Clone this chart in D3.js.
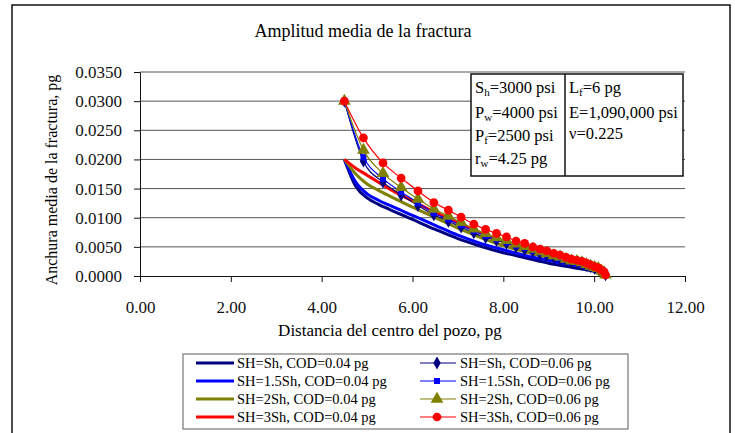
<!DOCTYPE html>
<html>
<head>
<meta charset="utf-8">
<script src="https://cdn.jsdelivr.net/npm/d3@7"></script>
<style>
  body { margin: 0; background: #fff; }
  svg { display: block; }
  svg text { font-family: "Liberation Serif", "Times New Roman", serif; }
</style>
</head>
<body>
<svg width="735" height="433"></svg>
<script>
const svg = d3.select("svg");

//====== Data ======

const xTicks = [0, 2, 4, 6, 8, 10, 12];
const yTicks = [0, 0.005, 0.010, 0.015, 0.020, 0.025, 0.030, 0.035];

// distance (pg) for the COD=0.04 curves
const distLine = [4.50, 4.75, 5.00, 5.25, 5.50, 6.00, 6.50, 7.00, 7.50, 8.00, 8.50, 9.00, 9.50, 9.80, 10.00, 10.15, 10.25];
// distance (pg) for the COD=0.06 curves (markers)
const distMark = [4.50, 4.92, 5.35, 5.75, 6.12, 6.47, 6.79, 7.07, 7.35, 7.61, 7.85, 8.07, 8.28, 8.47, 8.65,
                  8.81, 8.96, 9.11, 9.25, 9.38, 9.50, 9.62, 9.73, 9.83, 9.92, 10.01, 10.09, 10.16, 10.22, 10.25];

const sh1_04 = [0.0200, 0.0154, 0.0134, 0.0123, 0.0114, 0.0097, 0.0080, 0.0064, 0.0051, 0.0040, 0.0031, 0.0022, 0.0015, 0.0011, 0.0008, 0.0004, 0.0001];
const sh15_04 = [0.0200, 0.0161, 0.0141, 0.0130, 0.0121, 0.0104, 0.0087, 0.0070, 0.0056, 0.0045, 0.0035, 0.0027, 0.0019, 0.0014, 0.0009, 0.0006, 0.0001];
const sh2_04 = [0.0200, 0.0175, 0.0158, 0.0147, 0.0137, 0.0118, 0.0100, 0.0082, 0.0066, 0.0052, 0.0041, 0.0032, 0.0023, 0.0017, 0.0012, 0.0007, 0.0001];
const sh3_04 = [0.0200, 0.0185, 0.0173, 0.0161, 0.0149, 0.0129, 0.0109, 0.0091, 0.0074, 0.0059, 0.0046, 0.0035, 0.0025, 0.0019, 0.0014, 0.0009, 0.0002];

const sh1_06 = [0.0300, 0.0197, 0.0161, 0.0139, 0.0121, 0.0105, 0.0094, 0.0084, 0.0074, 0.0066, 0.0061, 0.0056, 0.0050, 0.0046, 0.0042,
                0.0038, 0.0036, 0.0032, 0.0030, 0.0027, 0.0024, 0.0022, 0.0021, 0.0018, 0.0016, 0.0013, 0.0012, 0.0008, 0.0006, 0.0002];
const sh15_06 = [0.0300, 0.0204, 0.0167, 0.0144, 0.0126, 0.0108, 0.0097, 0.0087, 0.0077, 0.0069, 0.0063, 0.0058, 0.0052, 0.0048, 0.0043,
                 0.0040, 0.0037, 0.0034, 0.0031, 0.0028, 0.0025, 0.0023, 0.0021, 0.0019, 0.0016, 0.0014, 0.0012, 0.0009, 0.0006, 0.0002];
const sh2_06 = [0.0300, 0.0216, 0.0176, 0.0152, 0.0132, 0.0115, 0.0103, 0.0092, 0.0081, 0.0073, 0.0066, 0.0061, 0.0055, 0.0051, 0.0046,
                0.0042, 0.0039, 0.0035, 0.0033, 0.0029, 0.0026, 0.0025, 0.0023, 0.0020, 0.0017, 0.0015, 0.0013, 0.0009, 0.0006, 0.0002];
const sh3_06 = [0.0300, 0.0237, 0.0194, 0.0168, 0.0146, 0.0126, 0.0113, 0.0101, 0.0089, 0.0080, 0.0073, 0.0067, 0.0060, 0.0056, 0.0050,
                0.0046, 0.0043, 0.0039, 0.0036, 0.0032, 0.0029, 0.0027, 0.0025, 0.0022, 0.0019, 0.0016, 0.0014, 0.0010, 0.0007, 0.0002];

const legendLines = ["SH=Sh, COD=0.04 pg", "SH=1.5Sh, COD=0.04 pg", "SH=2Sh, COD=0.04 pg", "SH=3Sh, COD=0.04 pg"];
const legendMarks = ["SH=Sh, COD=0.06 pg", "SH=1.5Sh, COD=0.06 pg", "SH=2Sh, COD=0.06 pg", "SH=3Sh, COD=0.06 pg"];

// [main, subscript, rest]
const infoLeft = [["S", "h", "=3000 psi"], ["P", "w", "=4000 psi"], ["P", "f", "=2500 psi"], ["r", "w", "=4.25 pg"]];
const infoRight = [["L", "f", "=6 pg"], ["E", "", "=1,090,000 psi"], ["\u03bd", "", "=0.225"]];

const colors = ["#000080", "#0000ff", "#808000", "#ff0000"];
const symbols = [d3.symbolDiamond, d3.symbolSquare, d3.symbolTriangle, d3.symbolCircle];
const symSizes = [48, 36, 70, 60];

const series = [
    {values: sh1_04, dist: distLine, color: colors[0], marker: null},
    {values: sh15_04, dist: distLine, color: colors[1], marker: null},
    {values: sh2_04, dist: distLine, color: colors[2], marker: null},
    {values: sh3_04, dist: distLine, color: colors[3], marker: null},
    {values: sh1_06, dist: distMark, color: colors[0], marker: 0},
    {values: sh15_06, dist: distMark, color: colors[1], marker: 1},
    {values: sh2_06, dist: distMark, color: colors[2], marker: 2},
    {values: sh3_06, dist: distMark, color: colors[3], marker: 3}
];

//====== Scales ======

const x = d3.scaleLinear().domain([0, 12]).range([140, 685]);
const y = d3.scaleLinear().domain([0, 0.035]).range([276, 72]);

//====== Frame + title ======

svg.append("rect")
    .attr("x", 12).attr("y", 5)
    .attr("width", 718).attr("height", 450)
    .attr("fill", "none")
    .attr("stroke", "#111")
    .attr("stroke-width", 1.5);

svg.append("text")
    .attr("x", 363).attr("y", 37)
    .attr("text-anchor", "middle")
    .attr("font-size", 18)
    .text("Amplitud media de la fractura");

//====== Grid ======

svg.append("g")
    .selectAll("line")
    .data(yTicks.slice(1))
    .enter().append("line")
        .attr("x1", x(0)).attr("x2", x(12))
        .attr("y1", d => y(d)).attr("y2", d => y(d))
        .attr("stroke", "#555")
        .attr("stroke-width", 1);

//====== Axes ======

const yAxis = svg.append("g")
    .attr("transform", `translate(${x(0)},0)`)
    .call(d3.axisLeft(y).tickValues(yTicks).tickFormat(d3.format(".4f"))
        .tickSize(6).tickSizeOuter(0).tickPadding(12));

const xAxis = svg.append("g")
    .attr("transform", `translate(0,${y(0)})`)
    .call(d3.axisBottom(x).tickValues(xTicks).tickFormat(d3.format(".2f"))
        .tickSize(6).tickSizeOuter(0).tickPadding(19));

[yAxis, xAxis].forEach(a => {
    a.selectAll("path, line").attr("stroke", "#111");
    a.selectAll("text")
        .attr("fill", "#111")
        .attr("font-size", 17);
});

svg.append("text")
    .attr("x", 390).attr("y", 336)
    .attr("text-anchor", "middle")
    .attr("font-size", 17)
    .text("Distancia del centro del pozo, pg");

svg.append("text")
    .attr("transform", "translate(57,180) rotate(-90)")
    .attr("text-anchor", "middle")
    .attr("font-size", 16)
    .text("Anchura media de la fractura, pg");

//====== Info box ======

const info = svg.append("g");
info.append("rect")
    .attr("x", 471).attr("y", 74)
    .attr("width", 212).attr("height", 102)
    .attr("fill", "#fff")
    .attr("stroke", "#111")
    .attr("stroke-width", 1.5);
info.append("line")
    .attr("x1", 565).attr("x2", 565)
    .attr("y1", 74).attr("y2", 176)
    .attr("stroke", "#111")
    .attr("stroke-width", 1.5);

function infoText(rows, x0, ys) {
    const t = info.selectAll(null)
        .data(rows)
        .enter().append("text")
            .attr("x", x0)
            .attr("y", (d, i) => ys[i])
            .attr("font-size", 16.5);
    t.append("tspan").text(d => d[0]);
    t.append("tspan")
        .attr("font-size", 11)
        .attr("dy", 3)
        .text(d => d[1]);
    t.append("tspan")
        .attr("dy", d => d[1] ? -3 : 0)
        .text(d => d[2]);
}
infoText(infoLeft, 475, [93, 118, 141, 164]);
infoText(infoRight, 569, [93, 118, 139]);

//====== Curves ======

const line = d3.line().curve(d3.curveMonotoneX);

const curves = svg.append("g");

series.forEach(s => {
    const pts = s.values.map((v, i) => [x(s.dist[i]), y(v)]);
    curves.append("path")
        .attr("d", line(pts))
        .attr("fill", "none")
        .attr("stroke", s.color)
        .attr("stroke-width", s.marker === null ? 3 : 1.2);
    if (s.marker !== null) {
        curves.append("g")
            .selectAll("path")
            .data(pts)
            .enter().append("path")
                .attr("transform", d => `translate(${d[0]},${d[1]})`)
                .attr("d", d3.symbol().type(symbols[s.marker]).size(symSizes[s.marker]))
                .attr("fill", s.color);
    }
});

//====== Legend ======

const legend = svg.append("g");
legend.append("rect")
    .attr("x", 183).attr("y", 354)
    .attr("width", 445).attr("height", 75)
    .attr("fill", "#fff")
    .attr("stroke", "#777")
    .attr("stroke-width", 1.2);

const rowY = [363, 381, 399, 417];

legendLines.forEach((lab, i) => {
    legend.append("line")
        .attr("x1", 196).attr("x2", 234)
        .attr("y1", rowY[i]).attr("y2", rowY[i])
        .attr("stroke", colors[i])
        .attr("stroke-width", 3);
    legend.append("text")
        .attr("x", 237).attr("y", rowY[i] + 5)
        .attr("font-size", 14.5)
        .text(lab);
});

legendMarks.forEach((lab, i) => {
    legend.append("line")
        .attr("x1", 420).attr("x2", 456)
        .attr("y1", rowY[i]).attr("y2", rowY[i])
        .attr("stroke", colors[i])
        .attr("stroke-width", 1.2);
    legend.append("path")
        .attr("transform", `translate(437,${rowY[i]})`)
        .attr("d", d3.symbol().type(symbols[i]).size(symSizes[i]))
        .attr("fill", colors[i]);
    legend.append("text")
        .attr("x", 460).attr("y", rowY[i] + 5)
        .attr("font-size", 14.5)
        .text(lab);
});
</script>
</body>
</html>
